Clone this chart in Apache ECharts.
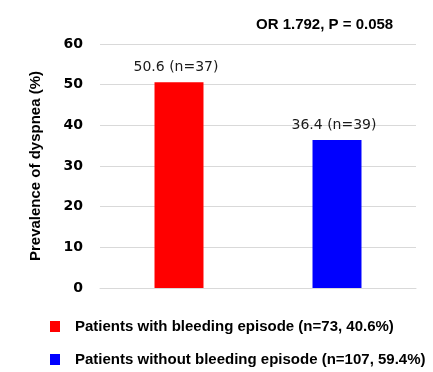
<!DOCTYPE html>
<html><head><meta charset="utf-8">
<script src="https://cdn.jsdelivr.net/npm/echarts@6/dist/echarts.min.js"></script>
<style>html,body{margin:0;padding:0;background:#fff}#c{width:433px;height:372px}</style>
</head><body><div id="c"></div>
<script>
const categories = ['With bleeding', 'Without bleeding'];
const seriesNames = ['Patients with bleeding episode (n=73, 40.6%)', 'Patients without bleeding episode (n=107, 59.4%)'];
const prevalence = [50.6, 36.4];
const counts = [37, 39];
const colors = ['#ff0000', '#0000ff'];
const yTicks = [0, 10, 20, 30, 40, 50, 60];

const chart = echarts.init(document.getElementById('c'));
const series = seriesNames.map((name, i) => ({
  name,
  type: 'bar',
  stack: 'all',
  barWidth: '31%',
  itemStyle: { color: colors[i] },
  data: categories.map((c, j) => j === i ? prevalence[j] : '-'),
  label: {
    show: true, position: 'top', distance: 8, offset: [-3, 0],
    fontFamily: 'DejaVu Sans', fontSize: 14, color: '#1a1a1a',
    formatter: p => prevalence[p.dataIndex].toFixed(1) + ' (n=' + counts[p.dataIndex] + ')'
  }
}));
const legendTops = [319, 352];
chart.setOption({
  animation: false,
  title: {
    text: 'OR 1.792, P = 0.058', left: 251, top: 12,
    textStyle: { fontFamily: 'Liberation Sans', fontWeight: 'bold', fontSize: 15, color: '#000' }
  },
  grid: { left: 100, right: 17, top: 44, bottom: 84 },
  xAxis: {
    type: 'category', data: categories,
    axisLine: { show: true, lineStyle: { color: '#d9d9d9' } },
    axisTick: { show: false }, axisLabel: { show: false }
  },
  yAxis: {
    type: 'value', min: yTicks[0], max: yTicks[yTicks.length - 1], interval: 10,
    name: 'Prevalence of dyspnea (%)', nameLocation: 'middle', nameGap: 57, nameRotate: 90,
    nameTextStyle: { fontFamily: 'Liberation Sans', fontWeight: 'bold', fontSize: 15, color: '#000' },
    axisLine: { show: false }, axisTick: { show: false },
    axisLabel: { margin: 17, fontFamily: 'DejaVu Sans', fontWeight: 'bold', fontSize: 14, color: '#000' },
    splitLine: { lineStyle: { color: '#d9d9d9' } }
  },
  legend: seriesNames.map((n, i) => ({
    left: 50, top: legendTops[i], itemWidth: 10, itemHeight: 11,
    icon: 'rect', padding: 0,
    textStyle: { fontFamily: 'Liberation Sans', fontWeight: 'bold', fontSize: 15, color: '#000', padding: [0, 0, 0, 10] },
    data: [n]
  })),
  series
});
</script></body></html>
